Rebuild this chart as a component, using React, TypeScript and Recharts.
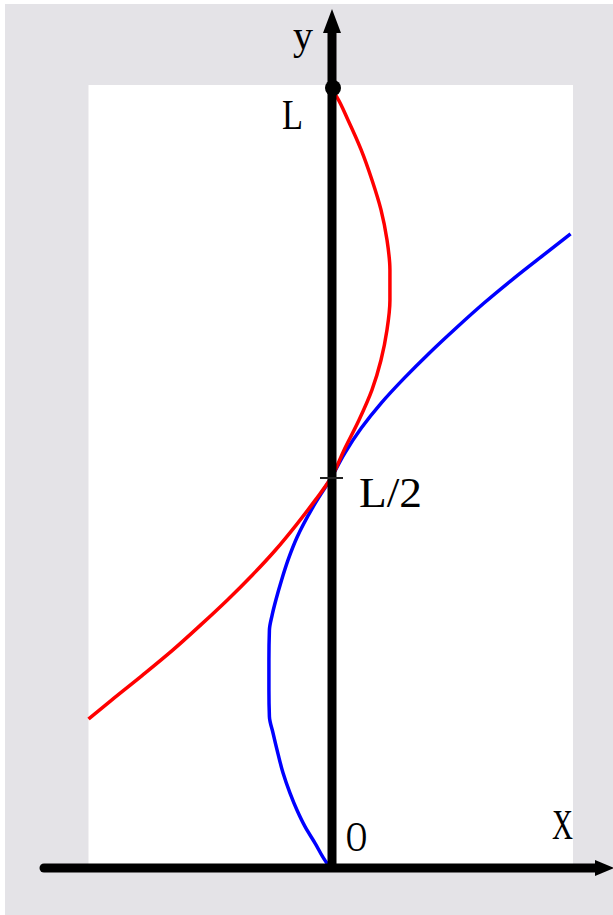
import React from 'react';
import { LineChart, Line, XAxis, YAxis, ReferenceArea, ReferenceLine, ReferenceDot } from 'recharts';

// x in half-widths of the white panel (panel edges at -1 / +1), y in units of L
type Pt = { x: number; y: number };

const redX = [0, 0.025, 0.07, 0.124, 0.169, 0.206, 0.231, 0.243, 0.243, 0.231, 0.206, 0.169, 0.115, 0.054, 0, -0.064, -0.143, -0.228, -0.323, -0.426, -0.536, -0.654, -0.778, -0.906, -1.0];
const redY = [1.0, 0.988, 0.959, 0.921, 0.882, 0.844, 0.805, 0.767, 0.728, 0.69, 0.651, 0.613, 0.574, 0.536, 0.5, 0.472, 0.44, 0.408, 0.376, 0.344, 0.312, 0.279, 0.247, 0.215, 0.191];

const blueX = [0, -0.016, -0.066, -0.107, -0.14, -0.169, -0.198, -0.219, -0.239, -0.254, -0.256, -0.256, -0.254, -0.243, -0.227, -0.204, -0.177, -0.14, -0.074, 0, 0.057, 0.125, 0.207, 0.302, 0.405, 0.515, 0.63, 0.754, 0.885, 0.988];
const blueY = [0, 0.006, 0.032, 0.053, 0.074, 0.096, 0.122, 0.147, 0.173, 0.194, 0.228, 0.267, 0.305, 0.324, 0.344, 0.369, 0.395, 0.424, 0.463, 0.5, 0.532, 0.564, 0.596, 0.628, 0.66, 0.692, 0.724, 0.756, 0.788, 0.813];

const yTicks = [0, 0.5, 1];
const tickLabels = ['O', 'L/2', 'L'];

const toPoints = (xs: number[], ys: number[]): Pt[] => xs.map((x, i) => ({ x, y: ys[i] }));
const redCurve = toPoints(redX, redY);
const blueCurve = toPoints(blueX, blueY);

// layout: pixel frame of the picture
const W = 613;
const H = 915;
const X0 = 331; // y axis, px
const XU = 242.5; // px per x unit
const Y0 = 868; // x axis, px
const YU = 780; // px per L
const px = (p: number) => (p - X0) / XU;
const py = (p: number) => (Y0 - p) / YU;

const BG = '#e4e3e7';
const FONT = '"Liberation Serif", "DejaVu Serif", serif';

const textShape = (text: string, len: number, size = 42) => (p: any) => (
  <text x={p.cx} y={p.cy} fontFamily={FONT} fontSize={size} fill="#000" textLength={len} lengthAdjust="spacingAndGlyphs">
    {text}
  </text>
);

const upArrow = (p: any) => (
  <polygon points={`${p.cx - 9},${p.cy} ${p.cx + 9},${p.cy} ${p.cx},${p.cy - 24}`} fill="#000" />
);
const rightArrow = (p: any) => (
  <polygon points={`${p.cx},${p.cy - 8} ${p.cx},${p.cy + 8} ${p.cx + 19},${p.cy}`} fill="#000" />
);

export default function App() {
  const axisX = px(332);
  return (
    <div style={{ position: 'absolute', left: 0, top: 0, width: W, height: H, background: '#fff' }}>
      <LineChart width={W} height={H} margin={{ top: 0, right: 0, bottom: 0, left: 0 }}>
        <XAxis type="number" dataKey="x" domain={[px(0), px(W)]} allowDataOverflow hide />
        <YAxis type="number" dataKey="y" domain={[py(H), py(0)]} allowDataOverflow hide />

        <ReferenceArea x1={px(5)} x2={px(W)} y1={py(H)} y2={py(4)} fill={BG} fillOpacity={1} stroke="none" ifOverflow="visible" />
        <ReferenceArea x1={-1} x2={px(573)} y1={0} y2={py(85)} fill="#fff" fillOpacity={1} stroke="none" ifOverflow="visible" />

        <Line data={blueCurve} dataKey="y" type="monotoneY" stroke="#0000ff" strokeWidth={3.5} dot={false} activeDot={false} isAnimationActive={false} />
        <Line data={redCurve} dataKey="y" type="monotoneY" stroke="#ff0000" strokeWidth={3.5} dot={false} activeDot={false} isAnimationActive={false} />

        {/* axes */}
        <ReferenceLine segment={[{ x: axisX, y: 0 }, { x: axisX, y: py(30) }]} stroke="#000" strokeWidth={9} ifOverflow="visible" />
        <ReferenceLine segment={[{ x: px(44), y: 0 }, { x: px(598), y: 0 }]} stroke="#000" strokeWidth={9} strokeLinecap="round" ifOverflow="visible" />
        <ReferenceDot x={axisX} y={py(33)} shape={upArrow} ifOverflow="visible" />
        <ReferenceDot x={px(595)} y={0} shape={rightArrow} ifOverflow="visible" />

        {/* marks on the y axis */}
        <ReferenceDot x={px(333)} y={yTicks[2]} r={8} fill="#000" stroke="none" ifOverflow="visible" />
        <ReferenceLine segment={[{ x: px(320), y: yTicks[1] }, { x: px(343), y: yTicks[1] }]} stroke="#222" strokeWidth={2} ifOverflow="visible" />

        {/* labels */}
        <ReferenceDot x={px(293)} y={py(49)} shape={textShape('y', 20, 40)} ifOverflow="visible" />
        <ReferenceDot x={px(282)} y={py(129)} shape={textShape(tickLabels[2], 21)} ifOverflow="visible" />
        <ReferenceDot x={px(359)} y={py(507)} shape={textShape(tickLabels[1], 63)} ifOverflow="visible" />
        <ReferenceDot x={px(346)} y={py(851)} shape={textShape(tickLabels[0], 21)} ifOverflow="visible" />
        <ReferenceDot x={px(552)} y={py(839)} shape={textShape('X', 21)} ifOverflow="visible" />
      </LineChart>
    </div>
  );
}
